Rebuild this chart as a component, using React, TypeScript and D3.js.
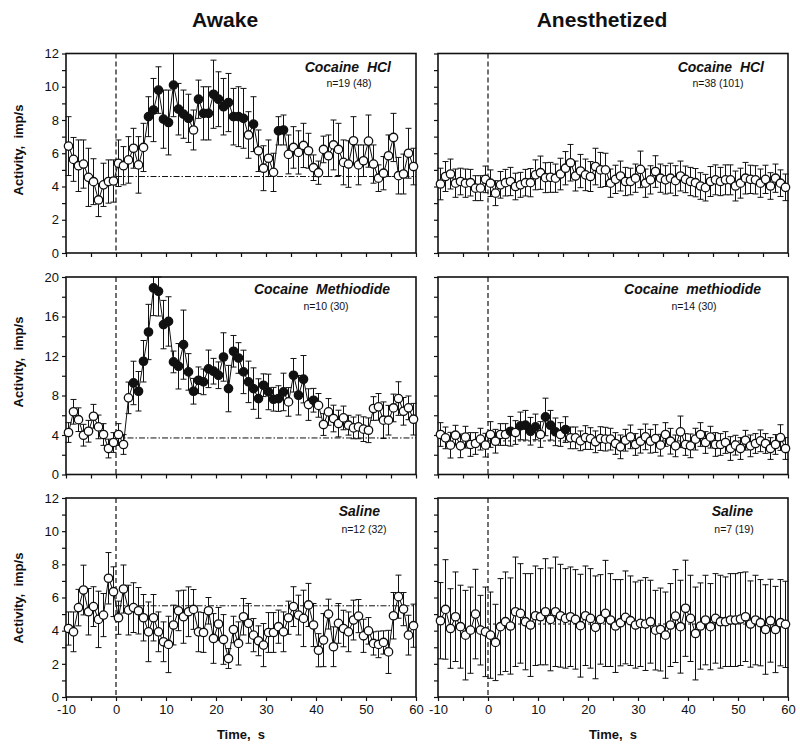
import React, { useRef, useEffect } from "react";
import * as d3 from "d3";

// 1-s bins, bin centres from -9.5 to 59.5 s
const binTimes = d3.range(70).map((i) => -9.5 + i);

const colTitles = ["Awake", "Anesthetized"];
const rowMax = [12, 20, 12];
const rowTickStep = [1, 2, 1];
const rowLabelStep = [2, 4, 2];
const xTickValues = [-10, -5, 0, 5, 10, 15, 20, 25, 30, 35, 40, 45, 50, 55, 60];
const xLabelValues = [-10, 0, 10, 20, 30, 40, 50, 60];

// Awake, cocaine HCl
const awakeHclMean = [
  6.43, 5.63, 5.25, 5.35, 4.55, 4.29, 3.19, 4.1, 4.3, 4.33,
  5.4, 5.25, 5.6, 6.3, 5.3, 6.35, 8.2, 8.6, 9.8, 8.05,
  7.85, 10.1, 8.65, 8.35, 8.1, 7.4, 9.25, 8.4, 8.4, 9.55,
  9.25, 8.8, 9.05, 8.2, 8.2, 8.1, 7.1, 7.75, 6.15, 5.1,
  5.7, 4.85, 7.35, 7.4, 5.93, 6.35, 6.05, 6.47, 6.15, 5.13,
  4.83, 6.23, 5.85, 6.5, 6.23, 5.45, 5.35, 6.75, 5.3, 5.55,
  6.73, 5.35, 4.5, 4.8, 5.85, 6.95, 4.65, 4.75, 6.0, 5.2,
];
const awakeHclSem = [
  1.77, 1.32, 1.55, 1.45, 1.75, 1.38, 1.0, 1.3, 1.3, 1.27,
  1.4, 1.15, 1.4, 1.2, 1.7, 1.45, 1.2, 1.9, 1.4, 1.75,
  1.95, 1.9, 1.55, 1.45, 1.45, 1.2, 1.15, 1.6, 1.6, 2.05,
  1.65, 1.7, 1.75, 1.7, 1.8, 1.8, 1.4, 1.65, 1.25, 1.35,
  1.1, 1.15, 0.85, 0.9, 1.17, 1.25, 1.3, 1.33, 1.05, 0.77,
  0.7, 0.8, 1.25, 1.5, 1.57, 1.35, 1.4, 1.45, 1.2, 0.95,
  1.57, 1.15, 0.8, 1.0, 1.25, 1.45, 1.1, 1.2, 1.5, 1.1,
];
const awakeHclSig = [16, 17, 18, 19, 20, 21, 22, 23, 24, 26, 27, 28, 29, 30, 31, 32, 33, 34, 35, 37, 42, 43];

// Awake, cocaine methiodide
const awakeMethMean = [
  4.25, 6.35, 5.55, 3.98, 4.38, 5.9, 4.82, 4.05, 2.63, 3.24,
  4.05, 3.04, 7.76, 9.27, 8.43, 11.47, 14.43, 18.89, 18.55, 15.18,
  15.5, 11.4, 10.96, 13.15, 10.39, 8.43, 9.54, 9.38, 10.7, 10.46,
  10.05, 11.9, 8.7, 12.48, 11.8, 10.39, 9.38, 8.7, 7.69, 9.04,
  8.36, 7.62, 7.69, 8.36, 7.35, 10.05, 8.03, 9.65, 7.08, 7.52,
  7.0, 5.06, 6.34, 5.67, 5.16, 5.73, 4.99, 4.72, 4.82, 4.59,
  4.48, 6.68, 6.85, 5.5, 5.5, 6.74, 7.69, 6.4, 6.75, 5.6,
];
const awakeMethSem = [
  1.0, 1.25, 1.2, 1.1, 1.1, 1.2, 1.2, 1.1, 0.95, 1.0,
  1.1, 1.0, 1.6, 2.2, 2.0, 2.1, 2.8, 2.8, 2.5, 2.45,
  2.5, 1.1, 2.3, 3.5, 1.85, 1.3, 1.35, 1.3, 1.9, 1.3,
  1.35, 2.45, 2.35, 1.6, 1.55, 2.2, 2.1, 2.1, 2.0, 1.15,
  1.8, 1.2, 1.3, 1.9, 1.45, 1.7, 2.0, 2.4, 1.6, 1.2,
  1.2, 1.1, 1.35, 1.35, 1.35, 1.2, 1.0, 1.1, 1.2, 1.25,
  1.25, 1.2, 1.35, 1.85, 1.5, 1.4, 1.7, 1.4, 1.2, 1.6,
];
const awakeMethSig = d3.range(13, 44).concat([45, 46, 47, 49]);

// Awake, saline
const awakeSalMean = [
  4.13, 3.93, 5.39, 6.45, 5.14, 5.45, 4.68, 4.94, 7.16, 6.35,
  4.78, 6.51, 5.24, 5.39, 5.2, 4.78, 3.93, 4.78, 3.93, 3.33,
  3.17, 4.34, 5.2, 4.84, 5.14, 5.28, 3.93, 3.89, 5.2, 3.53,
  4.4, 3.47, 2.32, 4.07, 3.23, 4.84, 4.44, 3.73, 3.39, 3.13,
  3.89, 3.89, 4.24, 3.93, 4.78, 5.45, 4.94, 4.74, 5.55, 4.34,
  2.82, 3.43, 5.0, 3.03, 4.44, 4.13, 3.93, 4.64, 4.88, 3.69,
  3.99, 3.23, 3.17, 3.29, 2.72, 4.9, 6.05, 5.3, 3.73, 4.3,
];
const awakeSalSem = [
  1.0, 1.2, 1.1, 1.5, 1.4, 1.2, 1.7, 1.3, 1.55, 1.5,
  1.0, 1.45, 1.5, 1.5, 1.4, 1.4, 1.8, 1.4, 1.2, 1.2,
  1.7, 1.2, 1.2, 1.6, 1.5, 1.2, 1.2, 1.2, 0.8, 1.5,
  1.0, 1.5, 0.6, 0.8, 1.3, 1.1, 1.2, 1.0, 0.9, 1.3,
  1.2, 1.2, 1.0, 1.2, 1.0, 1.2, 1.2, 1.7, 1.3, 1.3,
  1.0, 1.6, 0.9, 1.2, 1.2, 1.1, 1.2, 1.2, 1.0, 1.0,
  0.8, 0.7, 0.8, 0.7, 1.3, 1.4, 1.3, 1.0, 1.2, 1.3,
];

// Anesthetized, cocaine HCl
const anesHclMean = [
  4.15, 4.6, 4.75, 4.2, 4.3, 4.2, 4.23, 3.9, 3.9, 4.43,
  4.2, 3.6, 4.1, 4.23, 4.3, 4.0, 4.1, 4.23, 4.23, 4.7,
  4.83, 4.53, 4.55, 4.5, 4.75, 5.1, 5.43, 4.63, 4.93, 4.7,
  4.6, 5.2, 5.0, 5.0, 4.2, 4.43, 4.63, 4.3, 4.3, 4.5,
  5.03, 4.2, 4.4, 4.9, 4.5, 4.4, 4.5, 4.35, 4.63, 4.43,
  4.3, 4.23, 4.03, 3.93, 4.3, 4.4, 4.3, 4.4, 4.4, 4.03,
  4.2, 4.5, 4.43, 4.4, 4.2, 4.43, 4.03, 4.5, 4.2, 3.95,
];
const anesHclSem = [
  0.95, 0.9, 0.9, 0.85, 0.8, 0.85, 0.8, 0.75, 0.75, 0.8,
  0.8, 0.75, 0.8, 0.8, 0.85, 0.8, 0.75, 0.8, 0.85, 0.9,
  1.0, 0.9, 0.9, 0.85, 0.95, 1.0, 1.1, 0.9, 1.0, 0.95,
  0.9, 1.1, 1.05, 1.0, 0.85, 0.85, 0.9, 0.85, 0.8, 0.85,
  1.1, 0.85, 0.85, 0.95, 0.85, 0.85, 0.9, 0.9, 0.9, 0.8,
  0.85, 0.85, 0.8, 0.8, 0.9, 0.9, 0.85, 0.9, 0.9, 0.9,
  0.9, 0.95, 0.85, 0.85, 0.85, 0.85, 0.8, 0.85, 0.8, 0.8,
];

// Anesthetized, cocaine methiodide
const anesMethMean = [
  4.05, 3.71, 2.97, 3.98, 2.9, 3.78, 3.04, 3.14, 3.58, 2.97,
  4.05, 3.37, 4.05, 4.05, 4.38, 4.25, 4.92, 4.99, 4.38, 4.82,
  4.05, 5.83, 4.99, 4.32, 4.05, 4.55, 3.71, 3.71, 3.41, 3.74,
  3.64, 3.31, 3.64, 3.58, 3.58, 3.14, 2.8, 3.47, 3.81, 3.04,
  3.37, 3.81, 3.37, 3.64, 2.97, 4.05, 3.37, 2.9, 4.32, 3.04,
  2.9, 3.58, 4.05, 3.24, 3.78, 3.04, 3.04, 3.24, 2.63, 2.97,
  2.63, 3.47, 2.9, 3.14, 3.41, 3.14, 2.63, 3.04, 3.74, 2.63,
];
const anesMethSem = [
  1.2, 1.1, 1.3, 1.0, 1.2, 1.1, 1.2, 1.1, 1.1, 1.2,
  1.3, 1.2, 1.1, 1.1, 1.5, 1.2, 1.4, 1.5, 1.4, 1.3,
  1.3, 1.9, 1.5, 1.4, 1.2, 1.3, 1.1, 1.1, 1.0, 1.2,
  1.1, 1.1, 1.2, 1.2, 1.1, 1.1, 1.2, 1.1, 1.2, 1.1,
  1.2, 1.3, 1.2, 1.4, 1.1, 1.2, 1.3, 1.1, 1.6, 1.1,
  1.2, 1.1, 1.2, 1.1, 1.1, 1.2, 1.1, 1.1, 1.2, 1.0,
  1.1, 1.0, 1.1, 1.0, 1.1, 1.0, 1.1, 1.0, 1.3, 1.1,
];
const anesMethSig = [14, 16, 17, 18, 19, 21, 22, 23, 25];

// Anesthetized, saline
const anesSalMean = [
  4.6, 5.28, 4.13, 4.84, 4.24, 3.73, 4.03, 5.0, 4.03, 3.93,
  3.73, 3.29, 4.24, 4.54, 4.28, 5.14, 5.04, 4.54, 4.34, 4.9,
  4.84, 5.14, 4.68, 5.14, 4.9, 4.74, 4.84, 4.68, 4.3, 4.9,
  4.74, 4.2, 4.68, 5.04, 4.64, 4.28, 4.48, 4.8, 4.6, 4.34,
  4.44, 4.4, 4.54, 4.03, 4.07, 3.73, 4.34, 4.88, 4.24, 5.35,
  4.74, 3.83, 4.28, 4.64, 4.24, 4.74, 4.54, 4.54, 4.64, 4.64,
  4.7, 4.84, 4.4, 4.64, 4.48, 4.07, 4.6, 4.07, 4.48, 4.38,
];
const anesSalSem = [
  2.3, 3.0, 2.4, 2.7, 2.5, 2.7, 2.6, 2.7, 2.1, 2.7,
  2.6, 2.3, 2.9, 3.0, 2.9, 3.3, 3.0, 2.9, 3.1, 3.0,
  2.9, 3.2, 3.1, 3.3, 3.1, 3.0, 3.0, 3.0, 3.1, 3.0,
  3.0, 3.1, 2.7, 3.2, 2.8, 2.8, 2.6, 2.8, 2.7, 2.6,
  2.6, 2.8, 2.5, 2.4, 2.5, 2.6, 2.5, 2.8, 2.8, 2.9,
  2.6, 2.8, 2.6, 2.7, 2.6, 2.7, 2.8, 2.7, 2.8, 2.8,
  2.8, 2.7, 2.6, 2.7, 2.6, 2.7, 2.5, 2.6, 2.6, 2.6,
];

const panelTitles = ["Cocaine  HCl", "Cocaine  HCl", "Cocaine  Methiodide", "Cocaine  methiodide", "Saline", "Saline"];
const panelCounts = ["n=19 (48)", "n=38 (101)", "n=10 (30)", "n=14 (30)", "n=12 (32)", "n=7 (19)"];
const baselines = [4.6, null, 3.7, 3.4, 5.5, 4.4];

// layout
const colRange = [[66, 416], [438, 788]];
const rowRange = [[253, 53.5], [474.5, 277], [697, 498]];
const titleDx = [[25, 24], [26, 27], [36, 35]];
const countDx = [[67, 70], [90, 94], [52, 54]];
const titleDy = [18, 17, 18];
const countDy = [33, 33, 35];
const yLabelCenter = [150, 362, 598];
const FONT = "'Liberation Sans', Arial, Helvetica, sans-serif";

const panels = [
  { row: 0, col: 0, mean: awakeHclMean, sem: awakeHclSem, sig: awakeHclSig },
  { row: 0, col: 1, mean: anesHclMean, sem: anesHclSem, sig: [] },
  { row: 1, col: 0, mean: awakeMethMean, sem: awakeMethSem, sig: awakeMethSig },
  { row: 1, col: 1, mean: anesMethMean, sem: anesMethSem, sig: anesMethSig },
  { row: 2, col: 0, mean: awakeSalMean, sem: awakeSalSem, sig: [] },
  { row: 2, col: 1, mean: anesSalMean, sem: anesSalSem, sig: [] },
];

const Figure = () => {
  const svgRef = useRef<SVGSVGElement>(null);

  useEffect(() => {
    const svg = d3.select(svgRef.current);
    svg.selectAll("*").remove();
    const ink = "#111";

    // column headers
    svg
      .selectAll("text.col-title")
      .data(colTitles)
      .join("text")
      .attr("class", "col-title")
      .attr("x", (d, i) => [225, 602][i])
      .attr("y", 27)
      .attr("text-anchor", "middle")
      .style("font", `bold 21px ${FONT}`)
      .attr("fill", ink)
      .text((d) => d);

    panels.forEach((p, pi) => {
      const { row, col } = p;
      const ymax = rowMax[row];
      const x = d3.scaleLinear().domain([-10, 60]).range(colRange[col]);
      const y = d3.scaleLinear().domain([0, ymax]).range(rowRange[row]);
      const g = svg.append("g");
      const left = x(-10), right = x(60), top = y(ymax), bottom = y(0);

      // y axis ticks
      const yTicks = d3.range(0, ymax + 0.001, rowTickStep[row]);
      const yAxis = g
        .append("g")
        .attr("transform", `translate(${left},0)`)
        .call(
          d3
            .axisLeft(y)
            .tickValues(yTicks)
            .tickSize(4)
            .tickPadding(3)
            .tickFormat((d) => (col === 0 && +d % rowLabelStep[row] === 0 ? String(d) : ""))
        );
      yAxis.select(".domain").remove();
      yAxis.selectAll("line").attr("stroke", ink).attr("stroke-width", 1.2);
      yAxis.selectAll("text").style("font", `13px ${FONT}`).attr("fill", ink);

      // x axis ticks
      const xAxis = g
        .append("g")
        .attr("transform", `translate(0,${bottom})`)
        .call(
          d3
            .axisBottom(x)
            .tickValues(xTickValues)
            .tickSize(4)
            .tickPadding(4)
            .tickFormat((d) => (row === 2 && xLabelValues.includes(+d) ? String(d) : ""))
        );
      xAxis.select(".domain").remove();
      xAxis.selectAll("line").attr("stroke", ink).attr("stroke-width", 1.2);
      xAxis.selectAll("text").style("font", `13px ${FONT}`).attr("fill", ink);

      // frame
      g.append("rect")
        .attr("x", left)
        .attr("y", top)
        .attr("width", right - left)
        .attr("height", bottom - top)
        .attr("fill", "none")
        .attr("stroke", ink)
        .attr("stroke-width", 1.6);

      // injection onset
      g.append("line")
        .attr("x1", x(0)).attr("x2", x(0))
        .attr("y1", top).attr("y2", bottom)
        .attr("stroke", ink)
        .attr("stroke-width", 1.2)
        .attr("stroke-dasharray", "5,3");

      // baseline
      const base = baselines[pi];
      if (base != null) {
        g.append("line")
          .attr("x1", x(0)).attr("x2", right)
          .attr("y1", y(base)).attr("y2", y(base))
          .attr("stroke", ink)
          .attr("stroke-width", 1)
          .attr("stroke-dasharray", col === 0 ? "6,2,1.5,2" : "3,2");
      }

      const pts = binTimes.map((t, i) => ({
        t,
        m: p.mean[i],
        s: p.sem[i],
        sig: p.sig.includes(i),
      }));

      // error bars
      const eb = g.append("g").attr("stroke", ink).attr("stroke-width", 1);
      pts.forEach((d) => {
        const hi = y(Math.min(ymax, d.m + d.s));
        const lo = y(Math.max(0, d.m - d.s));
        const cx = x(d.t);
        eb.append("line").attr("x1", cx).attr("x2", cx).attr("y1", hi).attr("y2", lo);
        eb.append("line").attr("x1", cx - 3).attr("x2", cx + 3).attr("y1", hi).attr("y2", hi);
        eb.append("line").attr("x1", cx - 3).attr("x2", cx + 3).attr("y1", lo).attr("y2", lo);
      });

      // mean trace
      const line = d3
        .line<{ t: number; m: number }>()
        .x((d) => x(d.t))
        .y((d) => y(d.m));
      g.append("path")
        .datum(pts)
        .attr("fill", "none")
        .attr("stroke", ink)
        .attr("stroke-width", 1)
        .attr("d", line);

      // markers
      g.selectAll("circle")
        .data(pts)
        .join("circle")
        .attr("cx", (d) => x(d.t))
        .attr("cy", (d) => y(d.m))
        .attr("r", 4.2)
        .attr("fill", (d) => (d.sig ? ink : "#fff"))
        .attr("stroke", ink)
        .attr("stroke-width", 1.3);

      // panel labels
      g.append("text")
        .attr("x", right - titleDx[row][col])
        .attr("y", top + titleDy[row])
        .attr("text-anchor", "end")
        .style("font", `italic bold 14px ${FONT}`)
        .style("white-space", "pre")
        .attr("fill", ink)
        .text(panelTitles[pi]);
      g.append("text")
        .attr("x", right - countDx[row][col])
        .attr("y", top + countDy[row])
        .attr("text-anchor", "middle")
        .style("font", `10.5px ${FONT}`)
        .attr("fill", ink)
        .text(panelCounts[pi]);

      if (col === 0) {
        g.append("text")
          .attr("transform", `translate(23,${yLabelCenter[row]}) rotate(-90)`)
          .attr("text-anchor", "middle")
          .style("font", `bold 13px ${FONT}`)
          .style("white-space", "pre")
          .attr("fill", ink)
          .text("Activity,  imp/s");
      }
      if (row === 2) {
        g.append("text")
          .attr("x", (left + right) / 2)
          .attr("y", 739)
          .attr("text-anchor", "middle")
          .style("font", `bold 13px ${FONT}`)
          .style("white-space", "pre")
          .attr("fill", ink)
          .text("Time,  s");
      }
    });
  }, []);

  return (
    <svg
      ref={svgRef}
      width={800}
      height={750}
      style={{ position: "absolute", left: 0, top: 0, background: "#fff" }}
    ></svg>
  );
};

export default function App() {
  return <Figure />;
}
